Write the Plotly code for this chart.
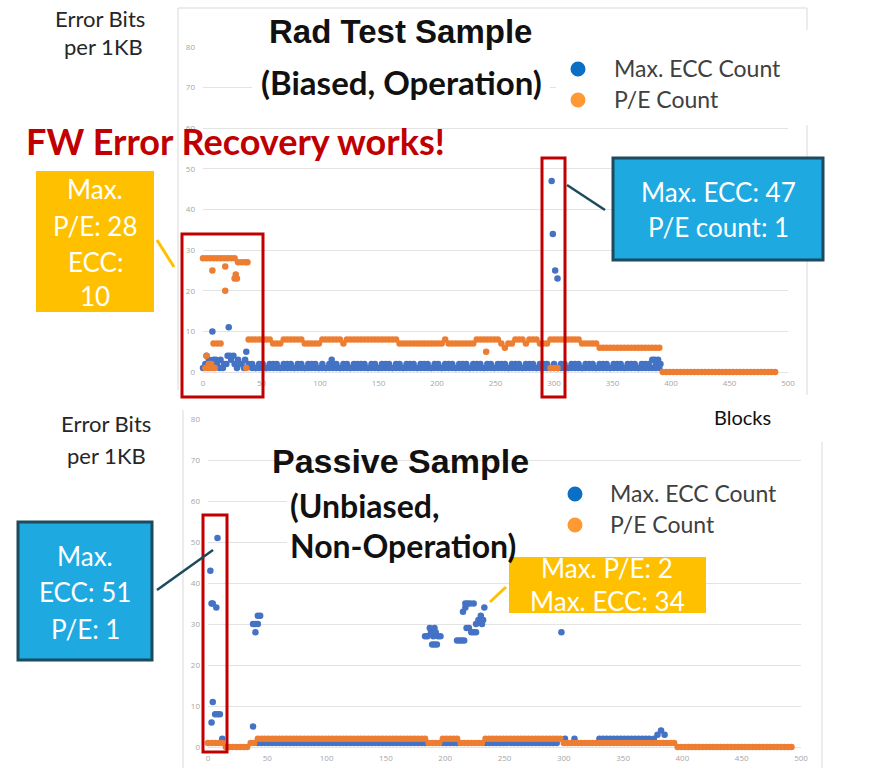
import plotly.graph_objects as go

# ---------------- data ----------------
blocks = [
    0, 3, 6, 9, 12, 15, 18, 21, 24, 27,
    30, 33, 36, 39, 42, 45, 48, 51, 54, 57,
    60, 63, 66, 69, 72, 75, 78, 81, 84, 87,
    90, 93, 96, 99, 102, 105, 108, 111, 114, 117,
    120, 123, 126, 129, 132, 135, 138, 141, 144, 147,
    150, 153, 156, 159, 162, 165, 168, 171, 174, 177,
    180, 183, 186, 189, 192, 195, 198, 201, 204, 207,
    210, 213, 216, 219, 222, 225, 228, 231, 234, 237,
    240, 243, 246, 249, 252, 255, 258, 261, 264, 267,
    270, 273, 276, 279, 282, 285, 288, 291, 294, 297,
    300, 303, 306, 309, 312, 315, 318, 321, 324, 327,
    330, 333, 336, 339, 342, 345, 348, 351, 354, 357,
    360, 363, 366, 369, 372, 375, 378, 381, 384, 387,
    390, 393, 396, 399, 402, 405, 408, 411, 414, 417,
    420, 423, 426, 429, 432, 435, 438, 441, 444, 447,
    450, 453, 456, 459, 462, 465, 468, 471, 474, 477,
    480, 483, 486, 489, 492, 495,
]
N = None

# Rad Test Sample (biased, operation)
top_ecc = [
    1, 4, 2, 3, 2, 3, 2, 4, 3, 2,
    3, 2, 3, 2, 2, 1, 2, 2, 1, 2,
    2, 2, 1, 2, 2, 2, 1, 2, 2, 1,
    2, 2, 2, 1, 2, 1, 2, 2, 2, 1,
    2, 2, 1, 2, 2, 2, 2, 1, 2, 2,
    1, 2, 2, 2, 1, 2, 2, 1, 2, 2,
    2, 1, 2, 2, 2, 1, 2, 2, 1, 2,
    2, 2, 1, 2, 2, 2, 1, 2, 2, 2,
    1, 2, 2, 1, 2, 2, 2, 1, 2, 2,
    2, 1, 2, 2, 2, 1, 2, 2, 2, 1,
    2, 1, 2, 2, 1, 2, 2, 2, 1, 2,
    2, 2, 1, 2, 2, 2, 1, 2, 2, 2,
    1, 2, 2, 2, 1, 2, 2, 2, 3, 2,
    2, N, N, N, N, N, N, N, N, N,
    N, N, N, N, N, N, N, N, N, N,
    N, N, N, N, N, N, N, N, N, N,
    N, N, N, N, N, N,
]
top_ecc_low = [
    N, N, N, N, N, N, N, N, N, N,
    N, N, N, N, 1, 1, 1, 1, 1, 1,
    1, 1, 1, 1, 1, 1, 1, 1, 1, 1,
    1, 1, 1, 1, 1, 1, 1, 1, 1, 1,
    1, 1, 1, 1, 1, 1, 1, 1, 1, 1,
    1, 1, 1, 1, 1, 1, 1, 1, 1, 1,
    1, 1, 1, 1, 1, 1, 1, 1, 1, 1,
    1, 1, 1, 1, 1, 1, 1, 1, 1, 1,
    1, 1, 1, 1, 1, 1, 1, 1, 1, 1,
    1, 1, 1, 1, 1, 1, 1, 1, 1, 1,
    1, 1, 1, 1, 1, 1, 1, 1, 1, 1,
    1, 1, 1, 1, 1, 1, 1, 1, 1, 1,
    1, 1, 1, 1, 1, 1, 1, 1, 1, 1,
    1, N, N, N, N, N, N, N, N, N,
    N, N, N, N, N, N, N, N, N, N,
    N, N, N, N, N, N, N, N, N, N,
    N, N, N, N, N, N,
]
top_pe = [
    28, 28, 28, 28, 28, 28, 28, 28, 28, 28,
    27, 27, 27, 8, 8, 8, 8, 8, 8, 8,
    7, 7, 7, 8, 8, 8, 8, 8, 8, 7,
    7, 7, 7, 7, 8, 8, 8, 8, 8, 8,
    7, 8, 8, 8, 8, 8, 8, 8, 8, 8,
    8, 8, 8, 8, 8, 8, 7, 7, 7, 7,
    7, 7, 7, 7, 7, 7, 7, 7, 7, 8,
    7, 7, 7, 7, 7, 7, 7, 7, 8, 8,
    8, 8, 8, 8, 8, 7, 6, 7, 7, 8,
    8, 8, 7, 8, 8, 8, 7, 7, 7, 8,
    8, 8, 8, 8, 8, 8, 8, 8, 7, 7,
    7, 7, 7, 6, 6, 6, 6, 6, 6, 6,
    6, 6, 6, 6, 6, 6, 6, 6, 6, 6,
    6, 0, 0, 0, 0, 0, 0, 0, 0, 0,
    0, 0, 0, 0, 0, 0, 0, 0, 0, 0,
    0, 0, 0, 0, 0, 0, 0, 0, 0, 0,
    0, 0, 0, 0, N, N,
]
top_ecc_extra_x = [2, 5, 8, 11, 14, 17, 20, 22, 23, 26, 29, 32, 35, 37,
                   110, 298, 299, 301, 303, 386, 389, 391]
top_ecc_extra_y = [2, 3, 10, 3, 1, 1, 2, 11, 4, 4, 1, 2, 1, 5,
                   3, 47, 34, 25, 23, 3, 3, 2]
top_pe_extra_x = [8, 9, 12, 15, 19, 19, 27, 28, 29, 2, 3, 4, 5, 6, 7, 8, 10, 38, 37,
                  242, 297, 300, 303]
top_pe_extra_y = [25, 7, 7, 7, 26, 20, 23, 24, 23, 1, 4, 1, 2, 1, 2, 1, 1, 27, 1,
                  5, 1, 1, 1]

# Passive Sample (unbiased, non-operation)
bot_ecc = [
    N, N, N, N, N, N, N, N, N, N,
    N, N, N, N, 1, 1, 1, 1, 1, 1,
    1, 1, 1, 1, 1, 1, 1, 1, 1, 1,
    1, 1, 1, 1, 1, 1, 1, 1, 1, 1,
    1, 1, 1, 1, 1, 1, 1, 1, 1, 1,
    1, 1, 1, 1, 1, 1, 1, 1, 1, 1,
    1, 1, N, N, N, N, 1, 1, 1, 1,
    1, N, N, N, N, N, N, N, 1, 1,
    1, 1, 1, 1, 1, 1, 1, 1, 1, 1,
    1, 1, 1, 1, 1, 1, 1, 1, 1, N,
    N, N, N, N, N, N, N, N, N, N,
    2, 2, 2, 2, 2, 2, 2, 2, 2, 2,
    2, 2, 2, 2, 2, N, N, N, N, N,
    N, N, N, N, N, N, N, N, N, N,
    N, N, N, N, N, N, N, N, N, N,
    N, N, N, N, N, N, N, N, N, N,
    N, N, N, N, N, N,
]
bot_pe = [
    1, 1, 1, 1, 1, 0, 0, 0, 0, 0,
    0, 0, 1, 1, 2, 2, 2, 2, 2, 2,
    2, 2, 2, 2, 2, 2, 2, 2, 2, 2,
    2, 2, 2, 2, 2, 2, 2, 2, 2, 2,
    2, 2, 2, 2, 2, 2, 2, 2, 2, 2,
    2, 2, 2, 2, 2, 2, 2, 2, 2, 2,
    2, 2, 1, 1, 1, 1, 2, 2, 2, 2,
    2, 1, 1, 1, 1, 1, 1, 1, 2, 2,
    2, 2, 2, 2, 2, 2, 2, 2, 2, 2,
    2, 2, 2, 2, 2, 2, 2, 2, 2, 2,
    1, 1, 1, 1, 1, 1, 1, 1, 1, 1,
    1, 1, 1, 1, 1, 1, 1, 1, 1, 1,
    1, 1, 1, 1, 1, 1, 1, 1, 1, 1,
    1, 1, 0, 0, 0, 0, 0, 0, 0, 0,
    0, 0, 0, 0, 0, 0, 0, 0, 0, 0,
    0, 0, 0, 0, 0, 0, 0, 0, 0, 0,
    0, 0, 0, 0, 0, N,
]
bot_ecc_extra_x = [
    2, 3, 4, 7, 8, 3, 4, 6, 8, 10, 12,
    38, 38, 40, 42, 40, 42, 44,
    183, 185, 187, 188, 189, 190, 191, 192, 189, 191, 193, 194, 196,
    210, 212, 214, 216, 215, 217, 219, 221, 224, 217, 218, 220, 222, 224, 226, 226, 228, 230, 231, 232, 233,
    298, 301, 309, 376, 379, 382, 385,
]
bot_ecc_extra_y = [
    43, 35, 35, 34, 51, 6, 11, 8, 8, 8, 2,
    5, 30, 30, 30, 28, 32, 32,
    27, 27, 29, 28, 28, 27, 29, 28, 25, 25, 25, 27, 27,
    26, 26, 26, 26, 33, 35, 35, 35, 35, 34, 29, 29, 28, 28, 28, 30, 31, 32, 30, 31, 34,
    28, 2, 2, 2, 3, 4, 3,
]

y_ticks = [0, 10, 20, 30, 40, 50, 60, 70, 80]
x_ticks = [0, 50, 100, 150, 200, 250, 300, 350, 400, 450, 500]

BLUE = "#4472C4"
ORANGE = "#ED7D31"
W, H = 884, 768


def fx(p):
    return p / W


def fy(p):
    return 1 - p / H


fig = go.Figure()
series = [
    ("x", "y", blocks + blocks + top_ecc_extra_x, top_ecc_low + top_ecc + top_ecc_extra_y, BLUE, "Max. ECC Count"),
    ("x", "y", blocks + top_pe_extra_x, top_pe + top_pe_extra_y, ORANGE, "P/E Count"),
    ("x2", "y2", blocks + bot_ecc_extra_x, bot_ecc + bot_ecc_extra_y, BLUE, "Max. ECC Count"),
    ("x2", "y2", blocks, bot_pe, ORANGE, "P/E Count"),
]
for xa, ya, xs, ys, col, nm in series:
    fig.add_trace(go.Scatter(
        x=xs, y=ys, mode="markers", name=nm, xaxis=xa, yaxis=ya,
        marker=dict(size=6.5, color=col, line=dict(width=0)),
        cliponaxis=False, showlegend=False,
    ))

tickfont = dict(family="Open Sans", size=8, color="#a6a6a6")
xcommon = dict(range=[0, 500], tickvals=x_ticks, showgrid=False, zeroline=False,
               showline=False, ticks="", tickfont=tickfont, ticklabelstandoff=5,
               fixedrange=True, automargin=False)
ycommon = dict(range=[0, 80], tickvals=y_ticks, showgrid=True, gridcolor="#e3e3e3",
               gridwidth=1, zeroline=True, zerolinecolor="#e3e3e3", zerolinewidth=1,
               showline=False, ticks="", tickfont=tickfont, ticklabelstandoff=7,
               fixedrange=True, automargin=False)

fig.update_layout(
    template="none",
    width=W, height=H, margin=dict(l=0, r=0, t=0, b=0, pad=0, autoexpand=False),
    paper_bgcolor="white", plot_bgcolor="white", showlegend=False,
    xaxis=dict(domain=[fx(203), fx(788)], anchor="y", **xcommon),
    yaxis=dict(domain=[fy(372), fy(47)], anchor="x", **ycommon),
    xaxis2=dict(domain=[fx(208), fx(801)], anchor="y2", **xcommon),
    yaxis2=dict(domain=[fy(747), fy(419)], anchor="x2", **ycommon),
)

shapes = []


def line(x0, y0, x1, y1, color, width):
    shapes.append(dict(type="line", xref="paper", yref="paper", layer="above",
                       x0=fx(x0), y0=fy(y0), x1=fx(x1), y1=fy(y1),
                       line=dict(color=color, width=width)))


def rect(x0, y0, x1, y1, fill=None, color=None, width=0):
    shapes.append(dict(type="rect", xref="paper", yref="paper", layer="above",
                       x0=fx(x0), y0=fy(y0), x1=fx(x1), y1=fy(y1),
                       fillcolor=fill if fill else "rgba(0,0,0,0)",
                       line=dict(color=color if color else "rgba(0,0,0,0)", width=width)))


def dot(cx, cy, r, color):
    shapes.append(dict(type="circle", xref="paper", yref="paper", layer="above",
                       x0=fx(cx - r), y0=fy(cy + r), x1=fx(cx + r), y1=fy(cy - r),
                       fillcolor=color, line=dict(width=0)))


# chart frames
FRAME = "#d9d9d9"
line(178, 8, 178, 390, FRAME, 1)
line(178, 8, 807, 8, FRAME, 1)
line(807, 8, 807, 395, FRAME, 1)
line(183, 410, 183, 768, FRAME, 1)
line(822, 442, 822, 768, FRAME, 1)

# white text boxes hiding gridlines
rect(252, 12, 550, 112, fill="white")
rect(556, 30, 812, 125, fill="white")
rect(600, 403, 884, 440, fill="white")
rect(287, 478, 812, 566, fill="white")

# highlight rectangles
RED = "#C00000"
rect(182, 234, 263, 397, color=RED, width=3)
rect(542, 158, 565, 397, color=RED, width=3)
rect(203, 515, 227, 752, color=RED, width=3)

# callout boxes + connectors
AMBER = "#FFC000"
CYAN = "#1EA9E1"
TEAL = "#1B4B5C"
rect(36, 171, 154, 312, fill=AMBER)
line(157, 240, 174, 267, AMBER, 3)
rect(613, 158, 823, 260, fill=CYAN, color=TEAL, width=3)
line(567, 185, 605, 210, TEAL, 2.5)
rect(18, 522, 152, 660, fill=CYAN, color=TEAL, width=3)
line(157, 590, 213, 550, TEAL, 2.5)
rect(509, 557, 706, 613, fill=AMBER)
line(490, 602, 506, 587, AMBER, 3)

# legend dots
dot(578, 69, 7.5, "#0B6FC6")
dot(578, 100, 7.5, "#FF9933")
dot(575, 494, 7.5, "#0B6FC6")
dot(575, 525, 7.5, "#FF9933")

fig.update_layout(shapes=shapes)

anns = []


def txt(x, y, s, size, color="#262626", family="Lato", xanchor="center", bold=False):
    if bold:
        s = "<b>" + s + "</b>"
    if family == "Lato":
        y -= 2
    anns.append(dict(x=fx(x), y=fy(y), xref="paper", yref="paper", text=s,
                     showarrow=False, xanchor=xanchor, yanchor="middle",
                     font=dict(family=family, size=size, color=color)))


# axis captions
txt(100, 20, "Error Bits", 22)
txt(103, 49, "per 1KB", 22)
txt(106, 425, "Error Bits", 22)
txt(106, 457, "per 1KB", 22)
txt(742, 419, "Blocks", 20, color="#111111")

# titles
txt(400, 31, "Rad Test Sample", 33, color="#111111", family="Liberation Sans", bold=True)
txt(401, 84, "(Biased, Operation)", 33, color="#111111", bold=True)
txt(400, 461, "Passive Sample", 34, color="#111111", family="Liberation Sans", bold=True)
txt(288, 507, "(Unbiased,", 32, color="#111111", xanchor="left", bold=True)
txt(288, 547, "Non-Operation)", 32, color="#111111", xanchor="left", bold=True)
txt(235, 143, "FW Error Recovery works!", 36, color=RED, bold=True)

# legends
txt(612, 70, "Max. ECC Count", 23, color="#404040", xanchor="left")
txt(612, 101, "P/E Count", 23, color="#404040", xanchor="left")
txt(608, 495, "Max. ECC Count", 23, color="#404040", xanchor="left")
txt(608, 526, "P/E Count", 23, color="#404040", xanchor="left")

# callout texts
for yy, s in [(191, "Max."), (228, "P/E: 28"), (264, "ECC:"), (298, "10")]:
    txt(95, yy, s, 26, color="white")
for yy, s in [(194, "Max. ECC: 47"), (229, "P/E count: 1")]:
    txt(718, yy, s, 26, color="white")
for yy, s in [(558, "Max."), (594, "ECC: 51"), (631, "P/E: 1")]:
    txt(85, yy, s, 26, color="white")
for yy, s in [(570, "Max. P/E: 2"), (603, "Max. ECC: 34")]:
    txt(607, yy, s, 26, color="white")

fig.update_layout(annotations=anns)
fig.write_html(
    "out.html",
    post_script="document.documentElement.style.margin='0';document.body.style.margin='0';",
)
